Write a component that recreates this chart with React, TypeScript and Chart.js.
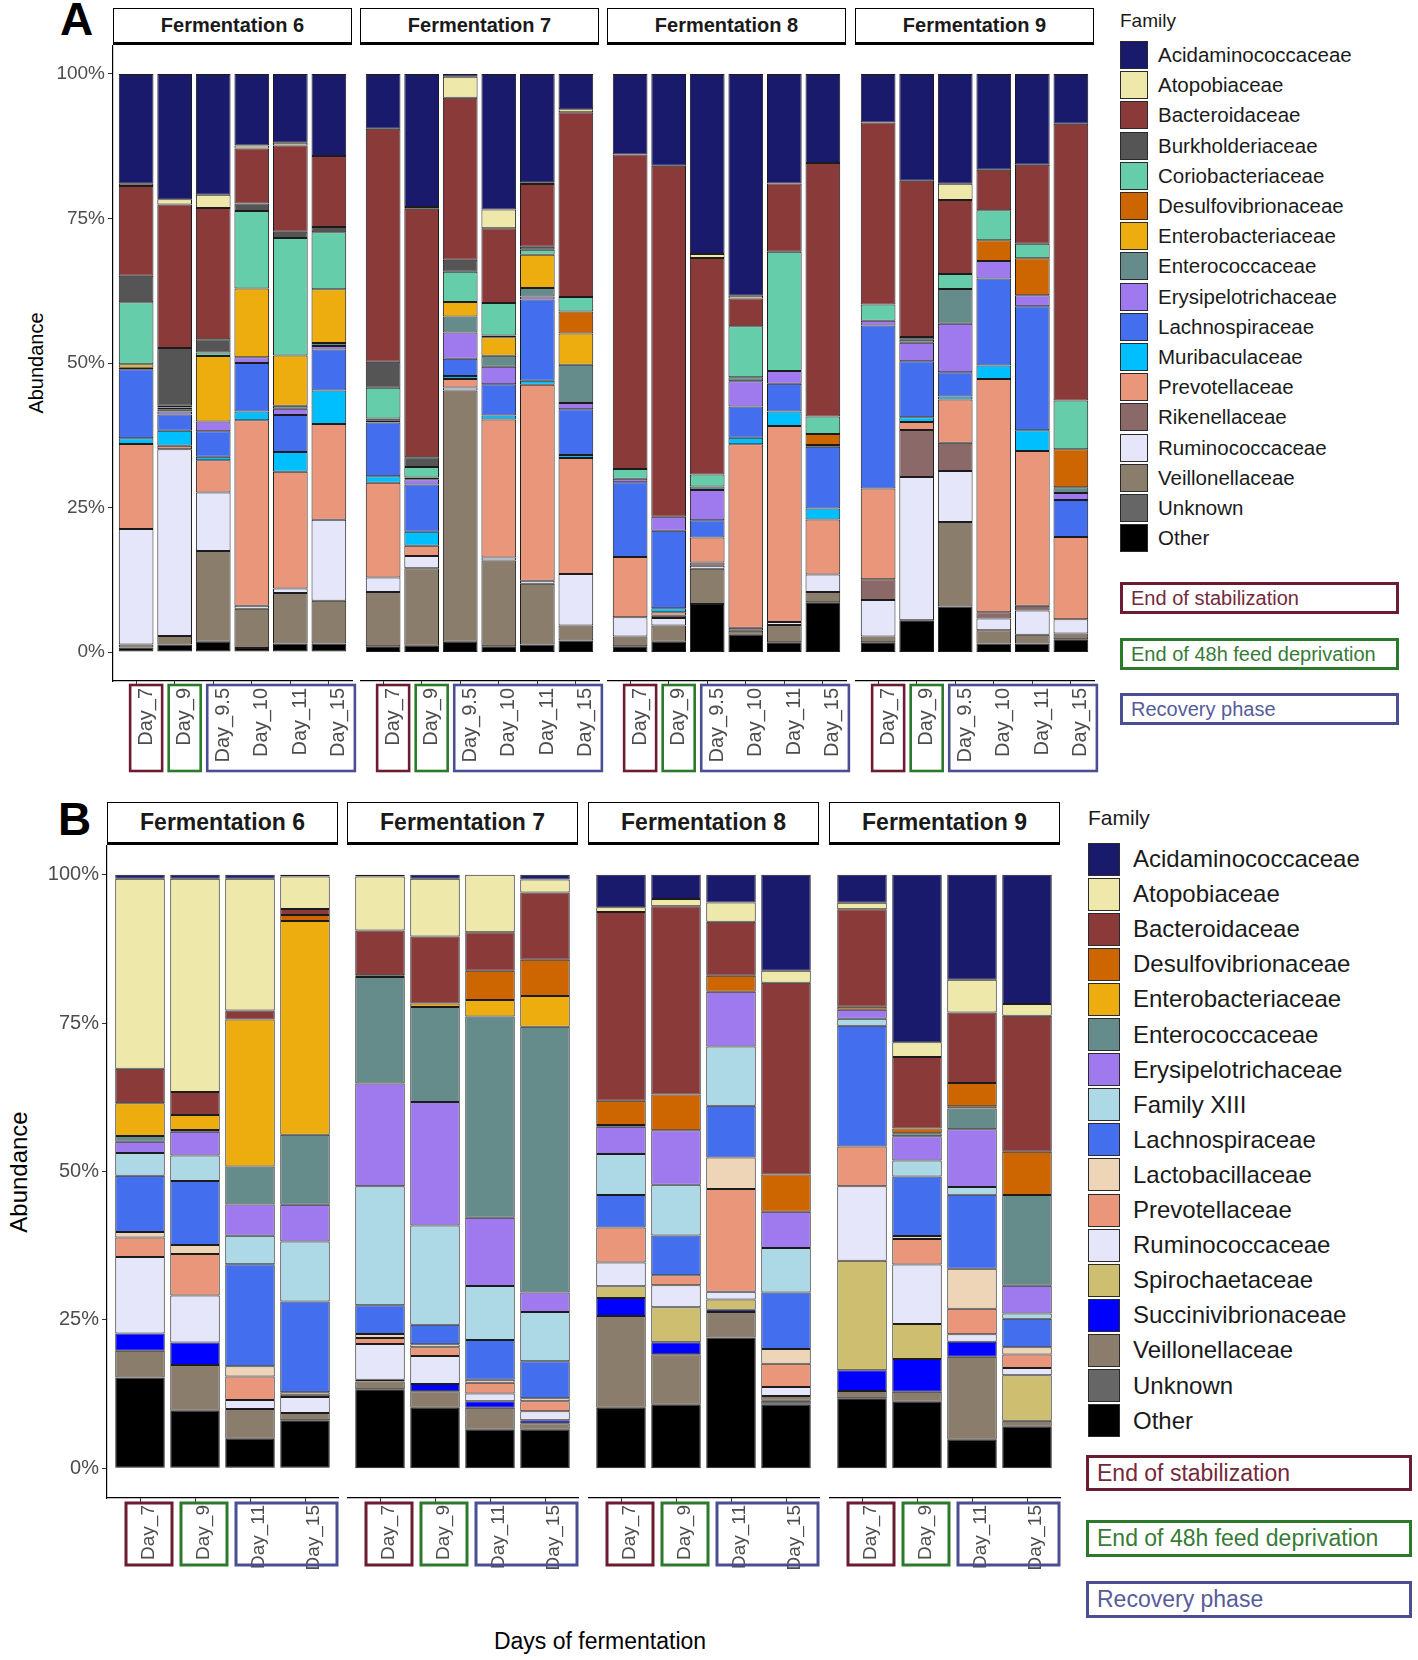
import React, { useEffect, useRef } from 'react';
import { Chart, registerables } from 'chart.js';
Chart.register(...registerables);

const FONT = '"Liberation Sans", Arial, Helvetica, sans-serif';

// ---------------- DATA ----------------
const facetNames = ['Fermentation 6', 'Fermentation 7', 'Fermentation 8', 'Fermentation 9'];
const daysA = ['Day_7', 'Day_9', 'Day_9.5', 'Day_10', 'Day_11', 'Day_15'];
const daysB = ['Day_7', 'Day_9', 'Day_11', 'Day_15'];
const yTickValues = [0, 25, 50, 75, 100];

const familiesA = ['Acidaminococcaceae', 'Atopobiaceae', 'Bacteroidaceae', 'Burkholderiaceae', 'Coriobacteriaceae', 'Desulfovibrionaceae', 'Enterobacteriaceae', 'Enterococcaceae', 'Erysipelotrichaceae', 'Lachnospiraceae', 'Muribaculaceae', 'Prevotellaceae', 'Rikenellaceae', 'Ruminococcaceae', 'Veillonellaceae', 'Unknown', 'Other'];
const familiesB = ['Acidaminococcaceae', 'Atopobiaceae', 'Bacteroidaceae', 'Desulfovibrionaceae', 'Enterobacteriaceae', 'Enterococcaceae', 'Erysipelotrichaceae', 'Family XIII', 'Lachnospiraceae', 'Lactobacillaceae', 'Prevotellaceae', 'Ruminococcaceae', 'Spirochaetaceae', 'Succinivibrionaceae', 'Veillonellaceae', 'Unknown', 'Other'];

// Panel A: 24 bars = Fermentation 6,7,8,9 x (Day_7, Day_9, Day_9.5, Day_10, Day_11, Day_15)
const aAcidaminococcaceae = [19.0, 21.7, 20.9, 12.4, 11.9, 14.2, 9.5, 23.0, 0.5, 23.4, 18.7, 6.1, 13.9, 15.9, 31.1, 38.4, 19.0, 15.4, 8.4, 18.5, 19.0, 16.6, 15.7, 8.6];
const aAtopobiaceae = [0.4, 0.9, 2.3, 0.5, 0.5, 0, 0, 0.3, 3.6, 3.2, 0.3, 0.5, 0, 0, 0.7, 0.5, 0, 0, 0, 0, 2.8, 0, 0, 0];
const aBacteroidaceae = [15.5, 24.8, 22.7, 9.5, 14.9, 12.3, 40.3, 43.0, 28.0, 12.9, 10.8, 31.9, 54.3, 60.7, 37.4, 4.8, 11.8, 43.8, 31.5, 27.0, 12.8, 7.0, 13.6, 47.9];
const aBurkholderiaceae = [4.6, 10.0, 2.3, 1.3, 1.1, 0.9, 4.5, 1.7, 2.1, 0, 0.5, 0, 0, 0, 0, 0, 0, 0, 0, 0.5, 0, 0, 0, 0];
const aCoriobacteriaceae = [10.7, 0.3, 0.6, 13.4, 20.3, 9.9, 5.3, 1.8, 5.2, 5.6, 0.9, 2.5, 1.7, 0, 2.1, 8.8, 20.7, 3.0, 2.8, 0, 2.6, 5.2, 2.5, 8.4];
const aDesulfovibrionaceae = [0, 0, 0, 0, 0, 0, 0, 0, 0, 0.3, 0, 3.8, 0, 0, 0, 0, 0, 1.9, 0, 0, 0, 3.6, 6.4, 6.6];
const aEnterobacteriaceae = [0.6, 0.3, 11.3, 11.9, 8.7, 9.3, 0, 0, 2.5, 3.2, 5.7, 5.4, 0, 0, 0, 0, 0, 0, 0, 0, 0, 0, 0, 0];
const aEnterococcaceae = [0, 0.4, 0, 0, 0.5, 0.5, 0.4, 0.3, 2.8, 1.9, 1.5, 6.6, 0, 0, 0.6, 0.7, 0, 0, 0, 0.5, 6.0, 0, 0, 1.0];
const aErysipelotrichaceae = [0.3, 0.5, 1.7, 1.0, 1.1, 0.6, 0.3, 0.9, 4.5, 3.0, 0.5, 1.1, 0.6, 2.4, 5.2, 4.4, 2.2, 0.3, 0.8, 3.2, 8.4, 3.0, 1.9, 1.2];
const aLachnospiraceae = [11.9, 2.8, 4.4, 8.4, 6.4, 7.1, 9.3, 8.2, 3.0, 5.4, 14.0, 7.9, 12.9, 13.4, 3.0, 5.4, 4.8, 10.7, 28.2, 9.7, 4.2, 15.1, 21.4, 6.4];
const aMuribaculaceae = [1.0, 2.6, 0.6, 1.5, 3.4, 5.8, 1.1, 2.4, 0.5, 0.7, 0.7, 0.5, 0, 0.7, 0, 1.1, 2.5, 1.9, 0, 0.8, 0.5, 2.3, 3.6, 0];
const aPrevotellaceae = [14.7, 0.6, 5.6, 32.1, 20.2, 16.6, 16.4, 1.8, 1.5, 23.8, 33.8, 20.0, 10.4, 0.6, 4.3, 31.8, 34.0, 9.5, 15.7, 1.4, 7.5, 40.4, 26.7, 14.2];
const aRikenellaceae = [0, 0, 0, 0, 0, 0, 0, 0, 0, 0, 0, 0, 0, 0.4, 0.6, 0.5, 0, 0, 3.6, 8.1, 4.9, 1.1, 0.8, 0];
const aRuminococcaceae = [20.0, 32.3, 10.1, 0.5, 0.8, 14.0, 2.5, 2.1, 0.5, 0.5, 0.5, 8.9, 3.3, 1.3, 0.5, 0, 0.5, 3.0, 6.3, 24.8, 8.8, 2.0, 4.2, 2.5];
const aVeillonellaceae = [0.5, 1.5, 15.7, 6.8, 8.7, 7.4, 9.4, 13.4, 43.4, 14.8, 10.5, 2.6, 1.7, 2.8, 6.1, 0.7, 3.0, 1.8, 1.0, 0, 14.6, 2.3, 1.5, 1.0];
const aUnknown = [0, 0, 0, 0, 0, 0, 0, 0, 0, 0, 0, 0, 0, 0, 0, 0, 0, 0, 0, 0, 0, 0, 0, 0];
const aOther = [0.8, 1.3, 1.8, 0.7, 1.5, 1.5, 1.0, 1.1, 1.8, 1.0, 1.3, 2.0, 1.0, 1.8, 8.3, 3.0, 1.7, 8.6, 1.7, 5.5, 7.9, 1.5, 1.5, 2.2];

// Panel B: 16 bars = Fermentation 6,7,8,9 x (Day_7, Day_9, Day_11, Day_15)
const bAcidaminococcaceae = [0.7, 0.7, 0.7, 0.3, 0.3, 0.7, 0, 0.8, 5.5, 4.1, 4.7, 16.2, 4.7, 28.2, 17.7, 21.8];
const bAtopobiaceae = [32.0, 35.9, 22.2, 5.5, 9.1, 9.7, 9.7, 2.2, 0.8, 1.2, 3.2, 2.0, 1.1, 2.5, 5.5, 2.0];
const bBacteroidaceae = [5.8, 3.9, 1.5, 1.0, 7.5, 11.3, 6.5, 11.3, 31.8, 31.7, 9.1, 32.3, 16.4, 12.0, 11.9, 22.9];
const bDesulfovibrionaceae = [0, 0, 0, 1.0, 0.3, 0, 4.9, 6.1, 4.1, 6.0, 2.7, 6.3, 0.5, 0.8, 3.9, 7.3];
const bEnterobacteriaceae = [5.5, 2.5, 24.8, 36.0, 0, 0.6, 2.8, 5.2, 0.3, 0, 0, 0, 0, 0, 0.4, 0];
const bEnterococcaceae = [1.0, 0.3, 6.4, 11.8, 17.9, 16.0, 33.9, 44.7, 0, 0, 0, 0, 0, 0.5, 3.5, 15.3];
const bErysipelotrichaceae = [1.9, 4.0, 5.3, 6.2, 17.3, 20.8, 11.5, 3.3, 4.6, 9.2, 9.2, 6.1, 1.5, 4.1, 9.7, 4.7];
const bFamilyXIII = [3.8, 4.3, 4.8, 10.1, 20.0, 16.7, 9.1, 8.3, 6.9, 8.5, 10.0, 7.5, 1.2, 2.7, 1.3, 0.9];
const bLachnospiraceae = [9.5, 10.8, 17.2, 15.3, 4.8, 3.3, 6.7, 6.2, 5.5, 6.7, 8.7, 9.5, 20.3, 10.0, 12.5, 4.8];
const bLactobacillaceae = [0.9, 1.5, 1.7, 0.4, 0.7, 0.5, 0.5, 0.5, 0, 0, 5.3, 2.5, 0, 0.5, 6.7, 1.2];
const bPrevotellaceae = [3.3, 7.0, 4.0, 0.4, 1.0, 1.5, 1.8, 1.7, 5.9, 1.7, 17.3, 3.9, 6.7, 4.3, 4.3, 2.3];
const bRuminococcaceae = [12.9, 7.9, 1.5, 2.7, 6.0, 4.7, 1.3, 1.5, 4.0, 3.7, 1.3, 1.5, 12.5, 10.0, 1.3, 1.2];
const bSpirochaetaceae = [0, 0, 0, 0, 0, 0, 0, 0, 2.0, 5.9, 1.7, 0, 18.4, 5.9, 0, 7.7];
const bSuccinivibrionaceae = [2.9, 3.8, 0, 0, 0.3, 1.2, 1.1, 0.5, 3.0, 2.0, 0.4, 0, 3.5, 5.5, 2.5, 0];
const bVeillonellaceae = [4.5, 7.7, 5.0, 1.2, 1.3, 2.8, 3.7, 1.1, 15.5, 8.5, 4.3, 0.8, 1.2, 1.7, 14.0, 1.0];
const bUnknown = [0, 0, 0, 0, 0, 0, 0, 0, 0, 0, 0, 0.7, 0, 0, 0, 0];
const bOther = [15.3, 9.7, 5.0, 8.1, 13.3, 10.2, 6.5, 6.5, 10.2, 10.7, 22.0, 10.7, 11.8, 11.2, 4.8, 7.0];

const valuesA = [aAcidaminococcaceae, aAtopobiaceae, aBacteroidaceae, aBurkholderiaceae, aCoriobacteriaceae, aDesulfovibrionaceae, aEnterobacteriaceae, aEnterococcaceae, aErysipelotrichaceae, aLachnospiraceae, aMuribaculaceae, aPrevotellaceae, aRikenellaceae, aRuminococcaceae, aVeillonellaceae, aUnknown, aOther];
const valuesB = [bAcidaminococcaceae, bAtopobiaceae, bBacteroidaceae, bDesulfovibrionaceae, bEnterobacteriaceae, bEnterococcaceae, bErysipelotrichaceae, bFamilyXIII, bLachnospiraceae, bLactobacillaceae, bPrevotellaceae, bRuminococcaceae, bSpirochaetaceae, bSuccinivibrionaceae, bVeillonellaceae, bUnknown, bOther];

// ---------------- STYLE ----------------
const COLORS: Record<string, string> = {
  Acidaminococcaceae: '#1a1a6d',
  Atopobiaceae: '#eee8aa',
  Bacteroidaceae: '#8b3a3a',
  Burkholderiaceae: '#555555',
  Coriobacteriaceae: '#66cdaa',
  Desulfovibrionaceae: '#cd6600',
  Enterobacteriaceae: '#eead0e',
  Enterococcaceae: '#668b8b',
  Erysipelotrichaceae: '#9f79ee',
  'Family XIII': '#add8e6',
  Lachnospiraceae: '#436eee',
  Lactobacillaceae: '#eed5b7',
  Muribaculaceae: '#00bfff',
  Prevotellaceae: '#e9967a',
  Rikenellaceae: '#8b6969',
  Ruminococcaceae: '#e6e6fa',
  Spirochaetaceae: '#cdbe70',
  Succinivibrionaceae: '#0000ff',
  Veillonellaceae: '#8b7d6b',
  Unknown: '#666666',
  Other: '#000000',
};

const RED = '#6c1c30';
const GREEN = '#2b7a2b';
const BLUE = '#4a4f93';

type Group = { from: number; to: number; color: string };

type PanelCfg = {
  letter: string;
  letterTop: number;
  letterLeft: number;
  days: string[];
  families: string[];
  values: number[][];
  facetLefts: number[];
  facetW: number;
  stripTop: number;
  stripH: number;
  stripFont: number;
  panelTop: number;
  axisY: number;
  xAxisH: number;
  yAxisW: number;
  rightPad: number;
  yTickFont: number;
  xTickFont: number;
  labelOffset: number;
  groups: Group[];
  boxHalfW: number;
  boxTop: number;
  boxH: number;
  boxLW: number;
  yTitleX: number;
  yTitleFont: number;
  legendLeft: number;
  legendTitleTop: number;
  legendTitleFont: number;
  legendFirstCenter: number;
  legendStep: number;
  keyW: number;
  keyH: number;
  legendTextLeft: number;
  legendFont: number;
  annot: { top: number; h: number; text: string; color: string; textColor: string }[];
  annotLeft: number;
  annotW: number;
  annotFont: number;
};

const panelA: PanelCfg = {
  letter: 'A', letterTop: -4, letterLeft: 60,
  days: daysA, families: familiesA, values: valuesA,
  facetLefts: [113, 360, 607, 855], facetW: 239,
  stripTop: 8, stripH: 37, stripFont: 20,
  panelTop: 45, axisY: 681, xAxisH: 96, yAxisW: 64, rightPad: 8,
  yTickFont: 19, xTickFont: 20, labelOffset: 10,
  groups: [{ from: 0, to: 0, color: RED }, { from: 1, to: 1, color: GREEN }, { from: 2, to: 5, color: BLUE }],
  boxHalfW: 16, boxTop: 4, boxH: 86, boxLW: 2.6,
  yTitleX: 36, yTitleFont: 20,
  legendLeft: 1120, legendTitleTop: 9, legendTitleFont: 19,
  legendFirstCenter: 55, legendStep: 30.2, keyW: 28, keyH: 28,
  legendTextLeft: 1158, legendFont: 20.5,
  annot: [
    { top: 582, h: 32, text: 'End of stabilization', color: RED, textColor: '#74293a' },
    { top: 638, h: 32, text: 'End of 48h feed deprivation', color: GREEN, textColor: '#367c36' },
    { top: 693, h: 32, text: 'Recovery phase', color: BLUE, textColor: '#565b9c' },
  ],
  annotLeft: 1120, annotW: 279, annotFont: 20,
};

const panelB: PanelCfg = {
  letter: 'B', letterTop: 796, letterLeft: 58,
  days: daysB, families: familiesB, values: valuesB,
  facetLefts: [107, 347, 588, 829], facetW: 231,
  stripTop: 802, stripH: 43, stripFont: 23,
  panelTop: 845, axisY: 1498, xAxisH: 76, yAxisW: 64, rightPad: 8,
  yTickFont: 20, xTickFont: 19, labelOffset: 9,
  groups: [{ from: 0, to: 0, color: RED }, { from: 1, to: 1, color: GREEN }, { from: 2, to: 3, color: BLUE }],
  boxHalfW: 23, boxTop: 5, boxH: 62, boxLW: 3,
  yTitleX: 19, yTitleFont: 24,
  legendLeft: 1088, legendTitleTop: 805, legendTitleFont: 21,
  legendFirstCenter: 859, legendStep: 35.1, keyW: 32, keyH: 33,
  legendTextLeft: 1133, legendFont: 24,
  annot: [
    { top: 1455, h: 36, text: 'End of stabilization', color: RED, textColor: '#74293a' },
    { top: 1520, h: 37, text: 'End of 48h feed deprivation', color: GREEN, textColor: '#367c36' },
    { top: 1581, h: 37, text: 'Recovery phase', color: BLUE, textColor: '#565b9c' },
  ],
  annotLeft: 1086, annotW: 326, annotFont: 23,
};

function FacetChart({ cfg, facet }: { cfg: PanelCfg; facet: number }) {
  const ref = useRef<HTMLCanvasElement | null>(null);
  const first = facet === 0;
  const left = cfg.facetLefts[facet] - (first ? cfg.yAxisW : 0);
  const width = cfg.facetW + (first ? cfg.yAxisW : 0) + cfg.rightPad;
  const top = cfg.panelTop;
  const height = cfg.axisY - cfg.panelTop + cfg.xAxisH;

  useEffect(() => {
    if (!ref.current) return;
    const n = cfg.days.length;
    // position = "fill": each bar is scaled to 100 %
    const totals = cfg.days.map((_, j) => cfg.values.reduce((s, arr) => s + arr[facet * n + j], 0));
    const datasets = cfg.families
      .map((fam, k) => ({
        label: fam,
        data: cfg.days.map((_, j) => {
          const v = cfg.values[k][facet * n + j];
          return { x: j + 1, y: v > 0 ? (v / totals[j]) * 100 : null };
        }),
        backgroundColor: COLORS[fam],
        borderColor: '#1c1c1c',
        borderWidth: 1,
        borderSkipped: false as const,
        barPercentage: 0.9,
        categoryPercentage: 1.0,
        stack: 's',
      }))
      .reverse();

    const boxPlugin = {
      id: 'groupBoxes',
      afterDraw(chart: any) {
        const ctx = chart.ctx;
        const xs = chart.scales.x;
        const y0 = chart.chartArea.bottom + cfg.boxTop;
        ctx.save();
        ctx.lineWidth = cfg.boxLW;
        cfg.groups.forEach((g) => {
          const l = xs.getPixelForValue(g.from + 1) + cfg.labelOffset - cfg.boxHalfW;
          const r = xs.getPixelForValue(g.to + 1) + cfg.labelOffset + cfg.boxHalfW;
          ctx.strokeStyle = g.color;
          ctx.strokeRect(l, y0, r - l, cfg.boxH);
        });
        ctx.restore();
      },
    };

    const noPad = (s: any) => {
      s.paddingTop = 0;
      s.paddingBottom = 0;
      s.paddingLeft = 0;
      s.paddingRight = 0;
    };

    const chart = new Chart(ref.current, {
      type: 'bar',
      data: { datasets: datasets as any },
      plugins: [boxPlugin],
      options: {
        responsive: false,
        animation: false,
        devicePixelRatio: 1,
        layout: { padding: { left: 0, right: cfg.rightPad, top: 0, bottom: 0 } },
        plugins: { legend: { display: false }, tooltip: { enabled: false }, title: { display: false } },
        scales: {
          x: {
            type: 'linear',
            stacked: true,
            offset: false,
            min: 0.4,
            max: n + 0.6,
            afterBuildTicks: (s: any) => {
              s.ticks = cfg.days.map((_, i) => ({ value: i + 1 }));
            },
            afterFit: (s: any) => {
              s.height = cfg.xAxisH;
              noPad(s);
            },
            ticks: {
              autoSkip: false,
              maxRotation: 90,
              minRotation: 90,
              padding: 3,
              labelOffset: cfg.labelOffset,
              color: '#4d4d4d',
              font: { family: FONT, size: cfg.xTickFont },
              callback: (v: any) => cfg.days[Math.round(Number(v)) - 1] ?? '',
            },
            grid: { display: true, offset: false, drawOnChartArea: false, drawTicks: true, tickLength: 4, color: '#333333', lineWidth: 1 },
            border: { display: true, color: '#000000', width: 1.2 },
          },
          y: {
            type: 'linear',
            stacked: true,
            display: first,
            min: -5,
            max: 105,
            afterBuildTicks: (s: any) => {
              s.ticks = yTickValues.map((v) => ({ value: v }));
            },
            afterFit: (s: any) => {
              s.width = first ? cfg.yAxisW : 0;
              noPad(s);
            },
            ticks: {
              padding: 3,
              color: '#4d4d4d',
              font: { family: FONT, size: cfg.yTickFont },
              callback: (v: any) => `${v}%`,
            },
            grid: { display: true, drawOnChartArea: false, drawTicks: true, tickLength: 5, color: '#333333', lineWidth: 1 },
            border: { display: true, color: '#000000', width: 1.2 },
          },
        },
      } as any,
    });
    return () => chart.destroy();
  }, [cfg, facet]);

  return (
    <canvas
      ref={ref}
      width={width}
      height={height}
      style={{ position: 'absolute', left, top, width, height, display: 'block' }}
    />
  );
}

function Panel({ cfg }: { cfg: PanelCfg }) {
  const yMid = (cfg.panelTop + cfg.axisY) / 2;
  return (
    <>
      <div
        style={{
          position: 'absolute', left: cfg.letterLeft, top: cfg.letterTop, fontFamily: FONT,
          fontWeight: 'bold', fontSize: 46, lineHeight: '46px', color: '#000',
        }}
      >
        {cfg.letter}
      </div>
      {facetNames.map((name, f) => (
        <div
          key={name}
          style={{
            position: 'absolute', left: cfg.facetLefts[f], top: cfg.stripTop, width: cfg.facetW,
            height: cfg.stripH, boxSizing: 'border-box', border: '1.5px solid #000',
            borderBottomWidth: 3, background: '#fff', display: 'flex', alignItems: 'center',
            justifyContent: 'center', fontFamily: FONT, fontWeight: 'bold', fontSize: cfg.stripFont,
            color: '#1a1a1a',
          }}
        >
          {name}
        </div>
      ))}
      {facetNames.map((name, f) => (
        <FacetChart key={name} cfg={cfg} facet={f} />
      ))}
      <div
        style={{
          position: 'absolute', left: cfg.yTitleX, top: yMid, transform: 'translate(-50%, -50%) rotate(-90deg)',
          fontFamily: FONT, fontSize: cfg.yTitleFont, color: '#000', whiteSpace: 'nowrap',
        }}
      >
        Abundance
      </div>
      <div
        style={{
          position: 'absolute', left: cfg.legendLeft, top: cfg.legendTitleTop, fontFamily: FONT,
          fontSize: cfg.legendTitleFont, lineHeight: `${cfg.legendTitleFont + 4}px`, color: '#1a1a1a',
        }}
      >
        Family
      </div>
      {cfg.families.map((fam, i) => {
        const c = cfg.legendFirstCenter + i * cfg.legendStep;
        return (
          <React.Fragment key={fam}>
            <div
              style={{
                position: 'absolute', left: cfg.legendLeft, top: c - cfg.keyH / 2, width: cfg.keyW,
                height: cfg.keyH, boxSizing: 'border-box', border: '1px solid #2a2a2a', background: COLORS[fam],
              }}
            />
            <div
              style={{
                position: 'absolute', left: cfg.legendTextLeft, top: c - 15, height: 30, lineHeight: '30px',
                fontFamily: FONT, fontSize: cfg.legendFont, color: '#1a1a1a', whiteSpace: 'nowrap',
              }}
            >
              {fam}
            </div>
          </React.Fragment>
        );
      })}
      {cfg.annot.map((a) => (
        <div
          key={a.text}
          style={{
            position: 'absolute', left: cfg.annotLeft, top: a.top, width: cfg.annotW, height: a.h,
            boxSizing: 'border-box', border: `3px solid ${a.color}`, display: 'flex', alignItems: 'center',
            paddingLeft: 8, fontFamily: FONT, fontSize: cfg.annotFont, color: a.textColor, whiteSpace: 'nowrap',
            background: '#fff',
          }}
        >
          {a.text}
        </div>
      ))}
    </>
  );
}

export default function App() {
  return (
    <div style={{ position: 'absolute', left: 0, top: 0, width: 1418, height: 1660, background: '#fff', overflow: 'hidden' }}>
      <Panel cfg={panelA} />
      <Panel cfg={panelB} />
      <div
        style={{
          position: 'absolute', left: 600, top: 1641, transform: 'translate(-50%, -50%)', fontFamily: FONT,
          fontSize: 23, color: '#000', whiteSpace: 'nowrap',
        }}
      >
        Days of fermentation
      </div>
    </div>
  );
}
